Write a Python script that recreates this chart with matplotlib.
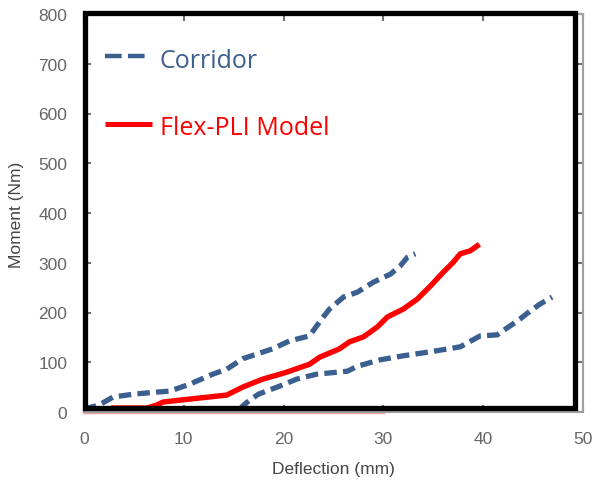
import matplotlib
matplotlib.use("Agg")
import matplotlib.pyplot as plt
from matplotlib.patches import Rectangle

# ---- data ----
upper_x = [0, 1.5, 2.9, 5, 7.3, 8.6, 10.6, 12.9, 14.3, 15.9, 18.9, 20.6, 22.6, 23.6, 24.6, 26, 27.4, 29, 30.7, 31.7, 32.4, 33.2]
upper_y = [6, 14, 30, 36, 40, 42, 56, 76, 86, 107, 127, 143, 153, 181, 207, 231, 241, 261, 277, 294, 311, 318]

lower_x = [15.6, 15.9, 16.6, 17.5, 19.6, 21.3, 23.3, 26.4, 27.4, 29.7, 32, 34.7, 37.7, 39.7, 41.4, 43.7, 44.7, 45.7, 46.9]
lower_y = [5, 12, 24, 36, 52, 66, 76, 82, 92, 105, 113, 121, 131, 153, 155, 187, 203, 217, 231]

model_x = [3, 6.3, 7.3, 7.9, 10.6, 14.3, 15.9, 17.9, 19.3, 20.3, 22.6, 23.6, 25.6, 26.6, 28, 29.4, 30.4, 32, 33.4, 34.7, 36, 37, 37.7, 38.7, 39.4]
model_y = [8, 8, 14, 20, 26, 34, 50, 66, 74, 80, 96, 110, 127, 141, 151, 171, 191, 207, 227, 253, 281, 301, 318, 324, 334]

baseline_x = [0, 30]
baseline_y = [0, 0]

x_ticks = [0, 10, 20, 30, 40, 50]
y_ticks = [0, 100, 200, 300, 400, 500, 600, 700, 800]

corridor_label = "Corridor"
model_label = "Flex-PLI Model"
x_label = "Deflection (mm)"
y_label = "Moment (Nm)"

blue = "#3b5f8e"
red = "#ff0000"

plt.rcParams["lines.scale_dashes"] = False

fig = plt.figure(figsize=(5.92, 4.85), dpi=100)
ax = fig.add_axes([84/592, 1 - 413/485, 499/592, 398/485])
ax.set_xlim(0, 50)
ax.set_ylim(0, 800)

# faint baseline
ax.plot(baseline_x, baseline_y, color="#f08080", lw=2.5, alpha=0.7, clip_on=False, zorder=1)

ax.plot(upper_x, upper_y, color=blue, lw=3.8, dashes=(9, 4.5), zorder=3)
ax.plot(lower_x, lower_y, color=blue, lw=3.8, dashes=(9, 4.5), zorder=3)
ax.plot(model_x, model_y, color=red, lw=3.9, zorder=3)

# gray original axes
for s in ax.spines.values():
    s.set_color("#a0a0a0")
    s.set_linewidth(1.5)
ax.set_xticks(x_ticks)
ax.set_yticks(y_ticks)
ax.tick_params(direction="in", length=5, width=1.5, color="#707070",
               top=True, right=True, labelsize=12.5, labelcolor="#666666")
ax.tick_params(axis="x", pad=14)
ax.tick_params(axis="y", pad=12)
for lab in ax.get_xticklabels() + ax.get_yticklabels():
    lab.set_fontfamily("Liberation Sans")

fig.text(333/592, 1 - 470/485, x_label, ha="center", va="center",
         fontsize=12.5, color="#454545", family="Liberation Sans")
fig.text(17/592, 1 - 215/485, y_label, ha="center", va="center", rotation=90,
         fontsize=12.5, color="#454545", family="Liberation Sans")

# black overlay box
fig.patches.append(Rectangle((85/592, 1 - 409/485), (575 - 85)/592, (409 - 14)/485,
                             transform=fig.transFigure, fill=False, edgecolor="black",
                             linewidth=3.8, zorder=5))

# legend (drawn manually)
ax.plot([0.042, 0.126], [0.894, 0.894], transform=ax.transAxes, color=blue,
        lw=3.2, dashes=(12, 4.5), zorder=4)
ax.text(0.152, 0.882, corridor_label, transform=ax.transAxes, color=blue,
        fontsize=18, family="Open Sans", va="center", ha="left")
ax.plot([0.042, 0.136], [0.724, 0.724], transform=ax.transAxes, color=red,
        lw=3.6, solid_capstyle="butt", zorder=4)
ax.text(0.152, 0.716, model_label, transform=ax.transAxes, color=red,
        fontsize=18, family="Open Sans", va="center", ha="left")

fig.savefig("out.png", dpi=100)
